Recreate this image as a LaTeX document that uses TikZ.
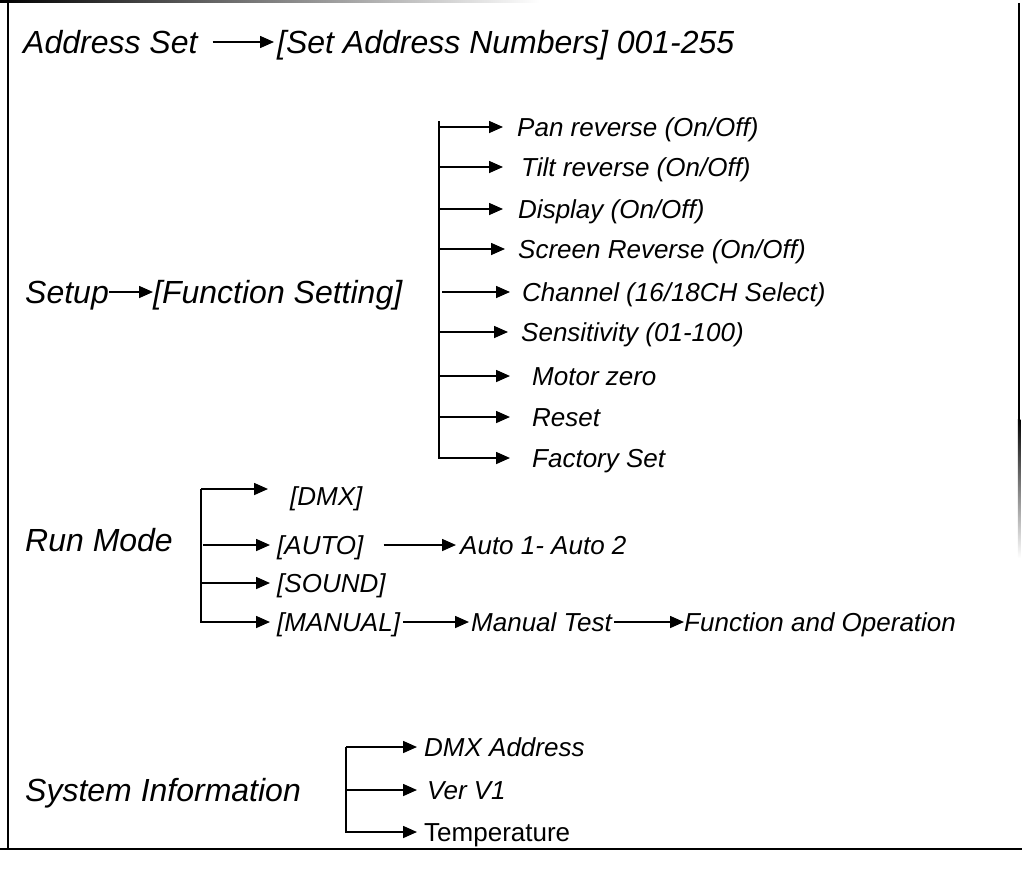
\documentclass[tikz,border=0pt]{standalone}
\usepackage{fontspec}
\setmainfont{Liberation Sans}
\usetikzlibrary{arrows.meta}
\tikzstyle{mainitem} = [font=\fontsize{32}{38}\selectfont\itshape,
inner sep=0pt,
text height=23pt,
text depth=0pt,
anchor=west]
\tikzstyle{subitem} = [font=\fontsize{26}{31}\selectfont\itshape,
inner sep=0pt,
text height=18.6pt,
text depth=0pt,
anchor=west]
\tikzstyle{plainitem} = [subitem, font=\fontsize{26}{31}\selectfont\upshape]
\tikzstyle{branch} = [line width=1.6pt]
\tikzstyle{arr} = [branch, -{Triangle[length=14pt,width=12pt]}]

\begin{document}
\begin{tikzpicture}[x=1pt, y=-1pt]
		\useasboundingbox (0,0) rectangle (1022,875);
		\draw [line width=1.5pt] (8,0) -- (8,849);
		\draw [line width=1.5pt] (0,849) -- (1022,849);
		\shade [left color=black, middle color=black!80, right color=white] (0,0) rectangle (540,2.5);
		\draw [line width=2.5pt] (1019,3) -- (1019,421);
		\shade [top color=black, bottom color=white] (1017.75,419) rectangle (1020.25,558);
		
		\node (addr) [mainitem] at (23,42) {Address Set};
		\node (addrnum) [mainitem] at (277,42) {[Set Address Numbers] 001-255};
		\draw [arr, shorten <=15pt, shorten >=3pt](addr) -- (addrnum);
		
		\node (setup) [mainitem] at (25,292) {Setup};
		\node (fset) [mainitem] at (153,292) {[Function Setting]};
		\draw [arr](setup) -- (fset);
		
		\coordinate (fstop) at (439,121);
		\coordinate (fsbot) at (439,459);
		\draw [branch](fstop) -- (fsbot);
		\node (pan) [subitem] at (517,127) {Pan reverse (On/Off)};
		\node (tilt) [subitem] at (521,167) {Tilt reverse (On/Off)};
		\node (disp) [subitem] at (518,209) {Display (On/Off)};
		\node (screen) [subitem] at (518,249) {Screen Reverse (On/Off)};
		\node (chan) [subitem] at (522,292) {Channel (16/18CH Select)};
		\node (sens) [subitem] at (521,332) {Sensitivity (01-100)};
		\node (motor) [subitem] at (532,376) {Motor zero};
		\node (reset) [subitem] at (532,417) {Reset};
		\node (factory) [subitem] at (532,458) {Factory Set};
		\draw [arr, shorten >=14pt](pan -| fstop) -- (pan);
		\draw [arr, shorten >=18pt](tilt -| fstop) -- (tilt);
		\draw [arr, shorten >=15pt](disp -| fstop) -- (disp);
		\draw [arr, shorten >=13pt](screen -| fstop) -- (screen);
		\draw [arr, shorten <=3pt, shorten >=12pt](chan -| fstop) -- (chan);
		\draw [arr, shorten >=13pt](sens -| fstop) -- (sens);
		\draw [arr, shorten >=22pt](motor -| fstop) -- (motor);
		\draw [arr, shorten >=22pt](reset -| fstop) -- (reset);
		\draw [arr, shorten >=22pt](factory -| fstop) -- (factory);
		
		\node (runmode) [mainitem] at (25,540) {Run Mode};
		\coordinate (rmtop) at (201,489);
		\coordinate (rmbot) at (201,623);
		\draw [branch](rmtop) -- (rmbot);
		\node (dmx) [subitem] at (290,496) {[DMX]};
		\node (auto) [subitem] at (277,545) {[AUTO]};
		\node (autoseq) [subitem] at (460,545) {Auto 1- Auto 2};
		\node (sound) [subitem] at (277,583) {[SOUND]};
		\node (manual) [subitem] at (277,622) {[MANUAL]};
		\node (mtest) [subitem] at (471,622) {Manual Test};
		\node (funcop) [subitem] at (684,622) {Function and Operation};
		\draw [arr, shorten >=22pt](rmtop) -- (rmtop -| dmx.west);
		\draw [arr, shorten <=2pt, shorten >=7pt](auto -| rmtop) -- (auto);
		\draw [arr, shorten <=20pt, shorten >=4pt](auto) -- (autoseq);
		\draw [arr, shorten >=7pt](sound -| rmtop) -- (sound);
		\draw [arr, shorten >=7pt](manual -| rmtop) -- (manual);
		\draw [arr, shorten <=3pt, shorten >=2pt](manual) -- (mtest);
		\draw [arr, shorten <=2pt](mtest) -- (funcop);
		
		\node (sysinfo) [mainitem] at (25,790) {System Information};
		\coordinate (sitop) at (346,747);
		\coordinate (sibot) at (346,833);
		\draw [branch](sitop) -- (sibot);
		\node (dmxaddr) [subitem] at (424,747) {DMX Address};
		\node (ver) [subitem] at (427,790) {Ver V1};
		\node (temp) [plainitem] at (424,832) {Temperature};
		\draw [arr, shorten >=7pt](dmxaddr -| sitop) -- (dmxaddr);
		\draw [arr, shorten >=10pt](ver -| sitop) -- (ver);
		\draw [arr, shorten >=7pt](temp -| sitop) -- (temp);
	\end{tikzpicture}
\end{document}
